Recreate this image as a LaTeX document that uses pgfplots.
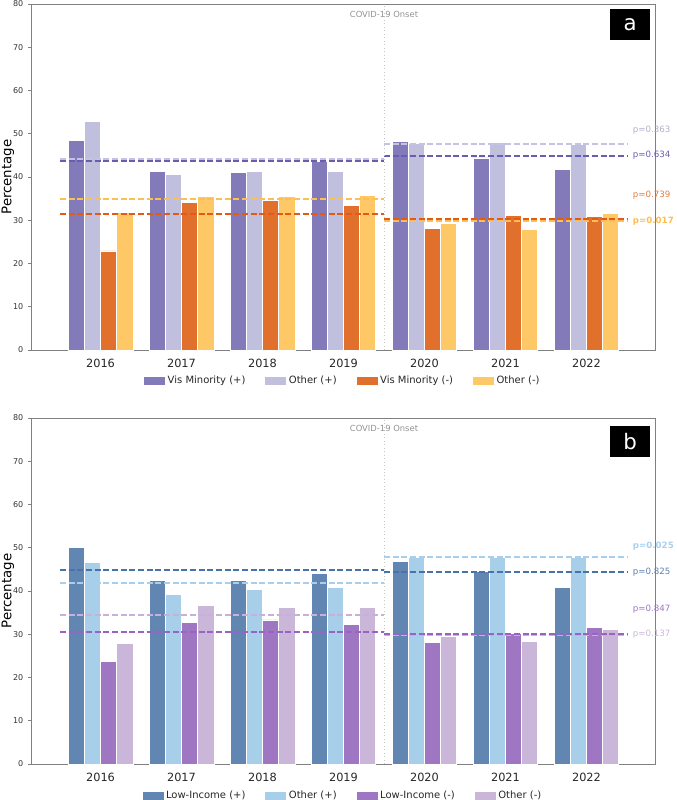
\documentclass[border=0pt]{standalone}
\usepackage{pgfplots}
\pgfplotsset{compat=1.18}
\usepackage{fontspec}
\setmainfont{DejaVu Sans}

% panel a colours
\definecolor{vmP}{HTML}{837AB9}
\definecolor{oaP}{HTML}{C0C0DE}
\definecolor{vmN}{HTML}{E0702C}
\definecolor{oaN}{HTML}{FDC865}
\definecolor{vmPl}{HTML}{6A5DB0}
\definecolor{oaPl}{HTML}{C4C4E2}
\definecolor{vmNl}{HTML}{E35A14}
\definecolor{oaNl}{HTML}{FDBE55}
% panel b colours
\definecolor{liP}{HTML}{6186B1}
\definecolor{obP}{HTML}{A8CFEA}
\definecolor{liN}{HTML}{9E76C1}
\definecolor{obN}{HTML}{CAB6D9}
\definecolor{liPl}{HTML}{4872AA}
\definecolor{obPl}{HTML}{A8D0EC}
\definecolor{liNl}{HTML}{9A62C4}
\definecolor{obNl}{HTML}{C9B0DC}
\definecolor{spine}{HTML}{808080}

\tikzset{
  plab/.style={anchor=west, inner sep=0pt, font=\fontsize{6.5}{8}\selectfont},
  plabb/.style={anchor=west, inner sep=0pt, font=\fontsize{6.5}{8}\selectfont\bfseries},
  tagbox/.style={fill=black, text=white, minimum width=30pt, minimum height=23.25pt,
    inner sep=0pt, font=\fontsize{16}{18}\selectfont},
}

\pgfplotsset{
  panel/.style={
    scale only axis, width=467.625pt, height=259.5pt,
    xmin=-0.852, xmax=6.846, ymin=0, ymax=80,
    ytick={0,10,...,80}, xtick={0,1,...,6},
    xticklabels={2016,2017,2018,2019,2020,2021,2022},
    axis line style={spine, line width=0.7pt},
    tick align=outside, major tick length=2.6pt, tick pos=left,
    xtick style={draw=none},
    ytick style={spine, line width=0.6pt},
    yticklabel style={font=\fontsize{6}{7}\selectfont, text=black!80},
    xticklabel style={font=\fontsize{8.5}{10}\selectfont, text=black!85, yshift=-1pt},
    /pgf/number format/assume math mode=true,
    clip=false,
    legend columns=4,
    legend cell align=left,
    legend style={draw=none, fill=none, font=\fontsize{7.5}{9}\selectfont,
      text=black!85, anchor=center,
      /tikz/every even column/.append style={column sep=13pt}},
  },
  mybar/.style={ybar, bar width=0.2, draw=white, line width=0.6pt, fill=#1,
    legend image code/.code={\fill[#1] (0pt,-2.6pt) rectangle (15pt,2.6pt);}},
  mean/.style={forget plot, sharp plot, no marks, #1, line width=1.5pt,
    dash pattern=on 4.5pt off 2pt},
  covid/.style={forget plot, no marks, gray!45, line width=0.6pt, dotted},
}

\begin{document}
\begin{tikzpicture}
\useasboundingbox (0pt,0pt) rectangle (507.75pt,-600pt);

% ---------------- panel a ----------------
\begin{axis}[panel, at={(23.625pt,-262.5pt)}, anchor=south west,
  legend style={at={(0.5,-0.088)}}]
\addplot[mybar=vmP, bar shift=-0.3] coordinates {(0,48.5) (1,41.2) (2,41.0) (3,43.5) (4,48.2) (5,44.4) (6,41.8)};
\addlegendentry{Vis Minority (+)}
\addplot[mybar=oaP, bar shift=-0.1] coordinates {(0,52.9) (1,40.5) (2,41.3) (3,41.3) (4,47.7) (5,47.9) (6,47.5)};
\addlegendentry{Other (+)}
\addplot[mybar=vmN, bar shift=0.1] coordinates {(0,22.9) (1,34.1) (2,34.5) (3,33.5) (4,28.2) (5,31.2) (6,30.8)};
\addlegendentry{Vis Minority (-)}
\addplot[mybar=oaN, bar shift=0.3] coordinates {(0,31.8) (1,35.6) (2,35.5) (3,35.7) (4,29.3) (5,27.9) (6,31.5)};
\addlegendentry{Other (-)}
% means before / after
\addplot[mean=vmPl] coordinates {(-0.5,43.6) (3.5,43.6)};
\addplot[mean=oaPl] coordinates {(-0.5,44.1) (3.5,44.1)};
\addplot[mean=oaNl] coordinates {(-0.5,34.8) (3.5,34.8)};
\addplot[mean=vmNl] coordinates {(-0.5,31.4) (3.5,31.4)};
\addplot[mean=oaPl] coordinates {(3.5,47.6) (6.5,47.6)};
\addplot[mean=vmPl] coordinates {(3.5,44.9) (6.5,44.9)};
\addplot[mean=vmNl] coordinates {(3.5,30.2) (6.5,30.2)};
\addplot[mean=oaNl] coordinates {(3.5,29.8) (6.5,29.8)};
\addplot[covid] coordinates {(3.5,0) (3.5,80)};
\node[font=\fontsize{6.3}{7}\selectfont, text=gray!85] at (axis cs:3.5,77.5) {COVID-19 Onset};
\node[plab, text=oaPl!90!black] at (axis cs:6.57,50.9) {p=0.363};
\node[plab, text=vmPl] at (axis cs:6.57,45.0) {p=0.634};
\node[plab, text=vmN!90] at (axis cs:6.57,35.8) {p=0.739};
\node[plabb, text=oaNl] at (axis cs:6.57,29.8) {p=0.017};
\node[tagbox] at (rel axis cs:0.96,0.941) {a};
\node[rotate=90, font=\fontsize{10}{12}\selectfont] at (rel axis cs:-0.0377,0.5) {Percentage};
\end{axis}

% ---------------- panel b ----------------
\begin{axis}[panel, at={(23.625pt,-573pt)}, anchor=south west,
  legend style={at={(0.5,-0.091)}}]
\addplot[mybar=liP, bar shift=-0.3] coordinates {(0,50.0) (1,42.5) (2,42.5) (3,44.1) (4,46.9) (5,44.6) (6,40.8)};
\addlegendentry{Low-Income (+)}
\addplot[mybar=obP, bar shift=-0.1] coordinates {(0,46.5) (1,39.3) (2,40.4) (3,40.8) (4,47.8) (5,47.7) (6,47.8)};
\addlegendentry{Other (+)}
\addplot[mybar=liN, bar shift=0.1] coordinates {(0,23.7) (1,32.8) (2,33.3) (3,32.3) (4,28.1) (5,30.2) (6,31.5)};
\addlegendentry{Low-Income (-)}
\addplot[mybar=obN, bar shift=0.3] coordinates {(0,27.9) (1,36.6) (2,36.3) (3,36.3) (4,29.4) (5,28.3) (6,31.2)};
\addlegendentry{Other (-)}
\addplot[mean=liPl] coordinates {(-0.5,44.8) (3.5,44.8)};
\addplot[mean=obPl] coordinates {(-0.5,41.9) (3.5,41.9)};
\addplot[mean=obNl] coordinates {(-0.5,34.5) (3.5,34.5)};
\addplot[mean=liNl] coordinates {(-0.5,30.6) (3.5,30.6)};
\addplot[mean=obPl] coordinates {(3.5,47.8) (6.5,47.8)};
\addplot[mean=liPl] coordinates {(3.5,44.4) (6.5,44.4)};
\addplot[mean=obNl] coordinates {(3.5,29.9) (6.5,29.9)};
\addplot[mean=liNl] coordinates {(3.5,30.0) (6.5,30.0)};
\addplot[covid] coordinates {(3.5,0) (3.5,80)};
\node[font=\fontsize{6.3}{7}\selectfont, text=gray!85] at (axis cs:3.5,77.6) {COVID-19 Onset};
\node[plabb, text=obPl] at (axis cs:6.57,50.4) {p=0.025};
\node[plab, text=liPl!90] at (axis cs:6.57,44.4) {p=0.825};
\node[plab, text=liN] at (axis cs:6.57,35.9) {p=0.847};
\node[plab, text=obN] at (axis cs:6.57,30.0) {p=0.137};
\node[tagbox] at (rel axis cs:0.96,0.932) {b};
\node[rotate=90, font=\fontsize{10}{12}\selectfont] at (rel axis cs:-0.0377,0.5) {Percentage};
\end{axis}
\end{tikzpicture}
\end{document}
